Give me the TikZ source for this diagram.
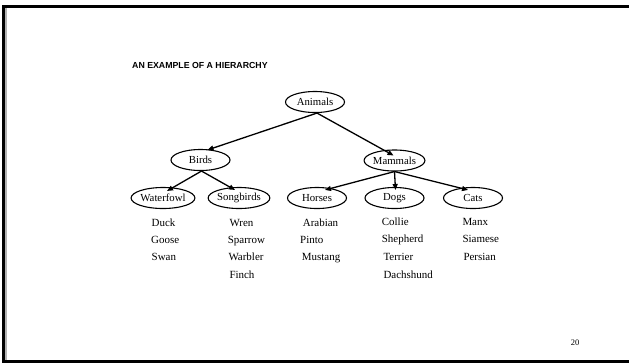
\documentclass[tikz,border=0pt]{standalone}
\usepackage{fontspec}
\setmainfont{Liberation Serif}
\newfontfamily\titlefont{Liberation Sans}
\usetikzlibrary{shapes.geometric,arrows.meta}
\begin{document}
\begin{tikzpicture}[x=1bp,y=-1bp,
  catnode/.style={ellipse,draw,line width=1.1bp,minimum width=59bp,minimum height=21bp,inner sep=0pt,font=\fontsize{10.8}{12}\selectfont},
  leaf/.style={anchor=base west,inner sep=0pt,font=\fontsize{11}{13}\selectfont},
  link/.style={line width=1.3bp,-{Triangle[length=6bp,width=5bp]}},
  frame/.style={line width=3bp,black}]
\useasboundingbox (0,0) rectangle (629,363);
% slide frame (open on the right)
\fill[gray!60] (4.5,7) rectangle (6.5,361);
\draw[frame] (3.5,5) -- (3.5,363);
\draw[frame] (2,6.5) -- (629,6.5);
\draw[frame] (2,361.5) -- (629,361.5);
% heading
\node[anchor=base west,inner sep=0pt,font=\titlefont\bfseries\fontsize{8.8}{10}\selectfont] (title) at (132,68.3) {AN EXAMPLE OF A HIERARCHY};
% category nodes
\node[catnode] (animals) at (315,102) {Animals};
\node[catnode] (birds) at (200.5,160) {Birds};
\node[catnode] (mammals) at (394.5,160.5) {Mammals};
\node[catnode] (waterfowl) at (163,198) {Waterfowl};
\node[catnode] (songbirds) at (239,198) {Songbirds};
\node[catnode] (horses) at (317,198) {Horses};
\node[catnode] (dogs) at (394.5,198) {Dogs};
\node[catnode] (cats) at (473,198) {Cats};
% connectors
\draw[link] ([xshift=2bp]animals.south) -- ([xshift=7bp,yshift=-1bp]birds.north);
\draw[link] ([xshift=2bp]animals.south) -- ([xshift=-1bp,yshift=-6bp]mammals.north);
\draw[link] ([xshift=1bp]birds.south) -- ([xshift=4bp,yshift=-4bp]waterfowl.north);
\draw[link] ([xshift=1bp]birds.south) -- ([xshift=-4bp,yshift=-3bp]songbirds.north);
\draw[link] (mammals.south) -- ([xshift=8bp,yshift=-3bp]horses.north);
\draw[link] (mammals.south) -- ([xshift=1bp,yshift=-3bp]dogs.north);
\draw[link] (mammals.south) -- ([xshift=-5bp,yshift=-3bp]cats.north);
% members of each group
\node[leaf] (duck) at (151.5,226) {Duck};
\node[leaf] (goose) at (151,243.3) {Goose};
\node[leaf] (swan) at (151.5,260.8) {Swan};
\node[leaf] (wren) at (229.3,226) {Wren};
\node[leaf] (sparrow) at (227.7,243.3) {Sparrow};
\node[leaf] (warbler) at (228.3,260.8) {Warbler};
\node[leaf] (finch) at (229.3,278.3) {Finch};
\node[leaf] (arabian) at (302.7,226) {Arabian};
\node[leaf] (pinto) at (300,243.3) {Pinto};
\node[leaf] (mustang) at (301.7,260.8) {Mustang};
\node[leaf] (collie) at (381.7,225) {Collie};
\node[leaf] (shepherd) at (381.7,242.3) {Shepherd};
\node[leaf] (terrier) at (383.3,260.5) {Terrier};
\node[leaf] (dachshund) at (383.3,278.3) {Dachshund};
\node[leaf] (manx) at (462.3,225) {Manx};
\node[leaf] (siamese) at (462.3,242.3) {Siamese};
\node[leaf] (persian) at (463.3,260.5) {Persian};
% page number
\node[inner sep=0pt,font=\fontsize{8.5}{9}\selectfont] (page) at (575,343) {20};
\end{tikzpicture}
\end{document}
